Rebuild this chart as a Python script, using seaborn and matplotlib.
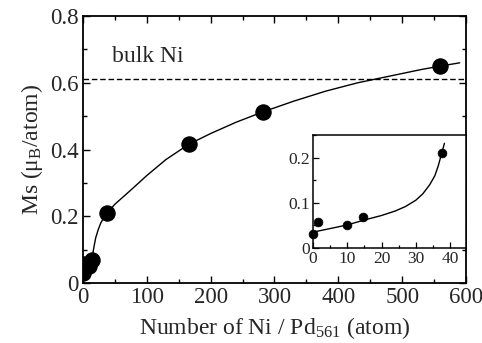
import matplotlib
matplotlib.use("Agg")
import matplotlib.pyplot as plt
import seaborn as sns
import pandas as pd
from matplotlib.ticker import MultipleLocator

# measured data points
ni_count = [0, 1.5, 10, 14.5, 37.5, 166, 282, 559]
ms_value = [0.030, 0.057, 0.050, 0.068, 0.210, 0.416, 0.513, 0.650]

fit_x = [14, 17, 20, 24, 28, 33, 38, 50, 73, 100, 130, 166, 200, 240, 282, 330, 380, 430, 480, 530, 559, 590]
fit_y = [0.070, 0.105, 0.135, 0.160, 0.180, 0.197, 0.210, 0.236, 0.275, 0.322, 0.370, 0.416, 0.448, 0.482, 0.513, 0.545, 0.575, 0.600, 0.620, 0.640, 0.650, 0.660]

inset_fit_x = [0, 5, 10, 15, 20, 24, 27, 30, 32, 34, 35.5, 36.5, 37.5, 38.3]
inset_fit_y = [0.035, 0.043, 0.051, 0.062, 0.072, 0.082, 0.092, 0.106, 0.120, 0.140, 0.160, 0.182, 0.210, 0.232]

bulk_ni = 0.612

main_ticks_x = [0, 100, 200, 300, 400, 500, 600]
main_ticks_y = [0, 0.2, 0.4, 0.6, 0.8]
main_ticklabels_y = ["0", "0.2", "0.4", "0.6", "0.8"]
inset_ticks_x = [0, 10, 20, 30, 40]
inset_ticks_y = [0, 0.1, 0.2]
inset_ticklabels_y = ["0", "0.1", "0.2"]

sns.set_theme(style="ticks")
plt.rcParams["font.family"] = ["Liberation Serif", "DejaVu Serif"]
plt.rcParams["mathtext.fontset"] = "custom"
plt.rcParams["mathtext.rm"] = "Liberation Serif"
plt.rcParams["mathtext.it"] = "Liberation Serif:italic"

pts = pd.DataFrame({"n": ni_count, "ms": ms_value})
fit = pd.DataFrame({"n": fit_x, "ms": fit_y})
ifit = pd.DataFrame({"n": inset_fit_x, "ms": inset_fit_y})

fig = plt.figure(figsize=(4.82, 3.43), dpi=100)
ax = fig.add_axes([0.172, 0.175, 0.795, 0.778])

sns.lineplot(data=fit, x="n", y="ms", ax=ax, color="black", lw=1.0, sort=False, estimator=None)
sns.scatterplot(data=pts, x="n", y="ms", ax=ax, color="black", s=120, edgecolor="black", zorder=5)
ax.axhline(bulk_ni, color="black", lw=1.0, ls=(0, (4, 2)))
ax.text(101, 0.648, "bulk Ni", ha="center", va="bottom", fontsize=17)

ax.set_xlim(0, 600)
ax.set_ylim(0, 0.8)
ax.set_xticks(main_ticks_x)
ax.set_yticks(main_ticks_y)
ax.set_yticklabels(main_ticklabels_y)
ax.xaxis.set_minor_locator(MultipleLocator(50))
ax.yaxis.set_minor_locator(MultipleLocator(0.1))
ax.tick_params(which="both", direction="in", top=True, right=True, labelsize=16.5, width=1.0, color="black", pad=3)
ax.tick_params(which="major", length=5)
ax.tick_params(which="minor", length=3)
ax.set_xlabel("Number of Ni / Pd$_{561}$ (atom)", fontsize=17, labelpad=5)
ax.set_ylabel("Ms (μ$_{\\rm B}$/atom)", fontsize=17, labelpad=4)
for s in ax.spines.values():
    s.set_linewidth(1.3)
    s.set_color("black")

ins = fig.add_axes([0.649, 0.277, 0.318, 0.329])
sns.lineplot(data=ifit, x="n", y="ms", ax=ins, color="black", lw=1.0, sort=False, estimator=None)
sns.scatterplot(data=pts[pts["n"] < 45], x="n", y="ms", ax=ins, color="black", s=40, edgecolor="black", zorder=5, clip_on=False)
ins.set_xlim(0, 44.6)
ins.set_ylim(0, 0.25)
ins.set_xticks(inset_ticks_x)
ins.set_yticks(inset_ticks_y)
ins.set_yticklabels(inset_ticklabels_y)
ins.xaxis.set_minor_locator(MultipleLocator(5))
ins.yaxis.set_minor_locator(MultipleLocator(0.05))
ins.tick_params(which="both", direction="in", labelsize=12.5, width=0.9, color="black", pad=2)
ins.tick_params(which="major", length=4)
ins.tick_params(which="minor", length=2)
ins.set_xlabel("")
ins.set_ylabel("")
for s in ins.spines.values():
    s.set_linewidth(1.1)
    s.set_color("black")

fig.savefig("out.png", dpi=100)
